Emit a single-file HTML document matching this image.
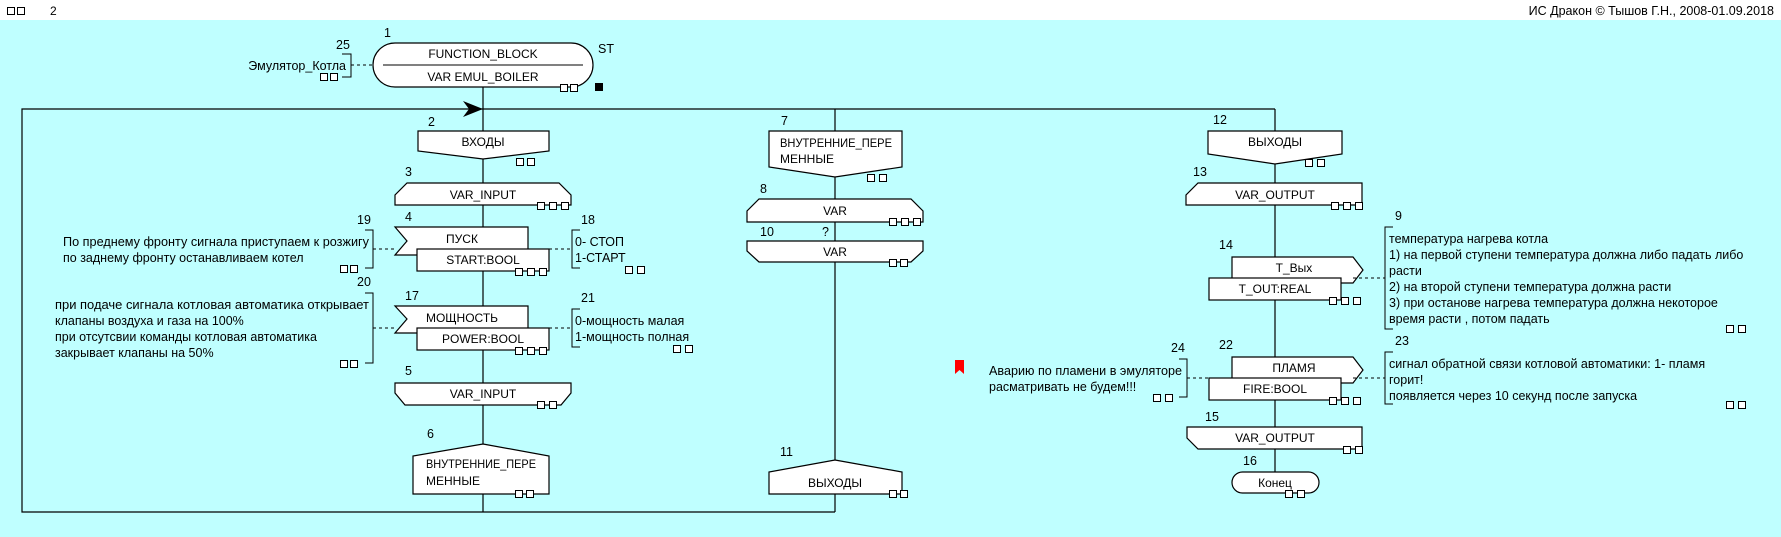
<!DOCTYPE html>
<html><head><meta charset="utf-8"><style>
html,body{margin:0;padding:0;background:#bfffff;}
svg{display:block;font-family:"Liberation Sans","DejaVu Sans",sans-serif;font-size:12px;}
</style></head><body>
<svg width="1781" height="537" viewBox="0 0 1781 537" xmlns="http://www.w3.org/2000/svg">
<rect x="0" y="0" width="1781" height="537" fill="#bfffff"/>
<rect x="0" y="0" width="1781" height="20" fill="#fff"/>
<g fill="none" stroke="#000" stroke-width="1">
<rect x="7.5" y="7.5" width="7" height="7"/><rect x="17.5" y="7.5" width="7" height="7"/>
</g>
<text x="50" y="15" font-size="12">2</text>
<text x="1774" y="15" text-anchor="end" font-size="12.5">ИС Дракон © Тышов Г.Н., 2008-01.09.2018</text>

<g stroke="#000" stroke-width="1.2" fill="none">
<polyline points="1275,109 22,109 22,512 835,512"/>
<line x1="483" y1="87" x2="483" y2="512"/>
<line x1="835" y1="109" x2="835" y2="512"/>
<line x1="1275" y1="109" x2="1275" y2="482"/>
</g>
<polygon points="483,109 463,101 469,109 463,117" fill="#000"/>

<g stroke="#000" stroke-width="1.2" fill="#fff">
<rect x="373" y="43" width="220" height="44" rx="22" ry="22"/>
<polygon points="418,131 549,131 549,151 483,159 418,151"/>
<polygon points="407,183 559,183 571,195 571,205 395,205 395,195"/>
<polygon points="395,227 528,227 528,255 395,255 407,241"/>
<rect x="417" y="249" width="132" height="22"/>
<polygon points="395,306 528,306 528,333 395,333 407,319"/>
<rect x="417" y="328" width="132" height="22"/>
<polygon points="395,383 571,383 571,393 561,405 405,405 395,393"/>
<polygon points="483,444 549,456 549,494 413,494 413,456"/>
<polygon points="769,131 902,131 902,167 835,177 769,167"/>
<polygon points="759,199 911,199 923,211 923,222 747,222 747,211"/>
<polygon points="747,241 923,241 923,251 911,262 759,262 747,251"/>
<polygon points="835,460 902,472 902,494 769,494 769,472"/>
<polygon points="1208,131 1342,131 1342,154 1275,164 1208,154"/>
<polygon points="1198,183 1362,183 1362,205 1186,205 1186,195"/>
<polygon points="1232,257 1353,257 1363,270 1353,283 1232,283"/>
<rect x="1209" y="278" width="132" height="22"/>
<polygon points="1232,357 1353,357 1363,370 1353,383 1232,383"/>
<rect x="1209" y="378" width="132" height="22"/>
<polygon points="1187,427 1362,427 1362,449 1198,449 1187,438"/>
<rect x="1232" y="472" width="87" height="21" rx="10.5" ry="10.5"/>
</g>
<line x1="383" y1="65" x2="583" y2="65" stroke="#000" stroke-width="1"/>
<rect x="595" y="83" width="8" height="8" fill="#000"/>

<g stroke="#000" stroke-width="1" fill="none">
<line x1="351" y1="65" x2="373" y2="65" stroke-dasharray="3,3"/>
<polyline points="342,54 351,54 351,77 342,77"/>
<line x1="373" y1="249" x2="395" y2="249" stroke-dasharray="3,3"/>
<polyline points="365,230 373,230 373,268 365,268"/>
<line x1="549" y1="249" x2="572" y2="249" stroke-dasharray="3,3"/>
<polyline points="580,230 572,230 572,268 580,268"/>
<line x1="373" y1="328" x2="395" y2="328" stroke-dasharray="3,3"/>
<polyline points="365,293 373,293 373,363 365,363"/>
<line x1="549" y1="328" x2="572" y2="328" stroke-dasharray="3,3"/>
<polyline points="580,309 572,309 572,347 580,347"/>
<line x1="1353" y1="278" x2="1385" y2="278" stroke-dasharray="3,3"/>
<polyline points="1393,227 1385,227 1385,329 1393,329"/>
<line x1="1353" y1="378" x2="1385" y2="378" stroke-dasharray="3,3"/>
<polyline points="1393,352 1385,352 1385,404 1393,404"/>
<line x1="1187" y1="378" x2="1209" y2="378" stroke-dasharray="3,3"/>
<polyline points="1179,359 1187,359 1187,397 1179,397"/>
</g>
<polygon points="955,360 964,360 964,374 959.5,370 955,374" fill="#f00"/>

<g stroke="#000" stroke-width="1" fill="#fff">
<rect x="560.5" y="84.5" width="7" height="7"/><rect x="570.5" y="84.5" width="7" height="7"/>
<rect x="320.5" y="73.5" width="7" height="7"/><rect x="330.5" y="73.5" width="7" height="7"/>
<rect x="516.5" y="158.5" width="7" height="7"/><rect x="527.5" y="158.5" width="7" height="7"/>
<rect x="537.5" y="202.5" width="7" height="7"/><rect x="549.5" y="202.5" width="7" height="7"/><rect x="561.5" y="202.5" width="7" height="7"/>
<rect x="515.5" y="268.5" width="7" height="7"/><rect x="527.5" y="268.5" width="7" height="7"/><rect x="539.5" y="268.5" width="7" height="7"/>
<rect x="340.5" y="265.5" width="7" height="7"/><rect x="350.5" y="265.5" width="7" height="7"/>
<rect x="625.5" y="266.5" width="7" height="7"/><rect x="637.5" y="266.5" width="7" height="7"/>
<rect x="515.5" y="347.5" width="7" height="7"/><rect x="527.5" y="347.5" width="7" height="7"/><rect x="539.5" y="347.5" width="7" height="7"/>
<rect x="340.5" y="360.5" width="7" height="7"/><rect x="350.5" y="360.5" width="7" height="7"/>
<rect x="673.5" y="345.5" width="7" height="7"/><rect x="685.5" y="345.5" width="7" height="7"/>
<rect x="537.5" y="401.5" width="7" height="7"/><rect x="549.5" y="401.5" width="7" height="7"/>
<rect x="515.5" y="490.5" width="7" height="7"/><rect x="526.5" y="490.5" width="7" height="7"/>
<rect x="867.5" y="174.5" width="7" height="7"/><rect x="879.5" y="174.5" width="7" height="7"/>
<rect x="889.5" y="218.5" width="7" height="7"/><rect x="901.5" y="218.5" width="7" height="7"/><rect x="913.5" y="218.5" width="7" height="7"/>
<rect x="889.5" y="259.5" width="7" height="7"/><rect x="900.5" y="259.5" width="7" height="7"/>
<rect x="889.5" y="490.5" width="7" height="7"/><rect x="900.5" y="490.5" width="7" height="7"/>
<rect x="1305.5" y="159.5" width="7" height="7"/><rect x="1317.5" y="159.5" width="7" height="7"/>
<rect x="1331.5" y="202.5" width="7" height="7"/><rect x="1343.5" y="202.5" width="7" height="7"/><rect x="1355.5" y="202.5" width="7" height="7"/>
<rect x="1329.5" y="297.5" width="7" height="7"/><rect x="1341.5" y="297.5" width="7" height="7"/><rect x="1353.5" y="297.5" width="7" height="7"/>
<rect x="1329.5" y="397.5" width="7" height="7"/><rect x="1341.5" y="397.5" width="7" height="7"/><rect x="1353.5" y="397.5" width="7" height="7"/>
<rect x="1726.5" y="325.5" width="7" height="7"/><rect x="1738.5" y="325.5" width="7" height="7"/>
<rect x="1726.5" y="401.5" width="7" height="7"/><rect x="1738.5" y="401.5" width="7" height="7"/>
<rect x="1153.5" y="394.5" width="7" height="7"/><rect x="1165.5" y="394.5" width="7" height="7"/>
<rect x="1343.5" y="446.5" width="7" height="7"/><rect x="1355.5" y="446.5" width="7" height="7"/>
<rect x="1285.5" y="490.5" width="7" height="7"/><rect x="1297.5" y="490.5" width="7" height="7"/>
</g>

<g fill="#000">
<g text-anchor="middle">
<text x="483" y="58">FUNCTION_BLOCK</text>
<text x="483" y="81">VAR EMUL_BOILER</text>
<text x="483" y="146">ВХОДЫ</text>
<text x="483" y="199">VAR_INPUT</text>
<text x="462" y="243">ПУСК</text>
<text x="483" y="264">START:BOOL</text>
<text x="462" y="322">МОЩНОСТЬ</text>
<text x="483" y="343">POWER:BOOL</text>
<text x="483" y="398">VAR_INPUT</text>
<text x="835" y="215">VAR</text>
<text x="835" y="256">VAR</text>
<text x="835" y="487">ВЫХОДЫ</text>
<text x="1275" y="146">ВЫХОДЫ</text>
<text x="1275" y="199">VAR_OUTPUT</text>
<text x="1294" y="272">Т_Вых</text>
<text x="1275" y="293">T_OUT:REAL</text>
<text x="1294" y="372">ПЛАМЯ</text>
<text x="1275" y="393">FIRE:BOOL</text>
<text x="1275" y="442">VAR_OUTPUT</text>
<text x="1275" y="487">Конец</text>
</g>
<text x="426" y="468" textLength="110" lengthAdjust="spacingAndGlyphs">ВНУТРЕННИЕ_ПЕРЕ</text>
<text x="426" y="485">МЕННЫЕ</text>
<text x="780" y="147" textLength="112" lengthAdjust="spacingAndGlyphs">ВНУТРЕННИЕ_ПЕРЕ</text>
<text x="780" y="163">МЕННЫЕ</text>

<g font-size="12.5">
<text x="384" y="37">1</text>
<text x="598" y="53">ST</text>
<text x="336" y="49">25</text>
<text x="428" y="126">2</text>
<text x="405" y="176">3</text>
<text x="405" y="221">4</text>
<text x="357" y="224">19</text>
<text x="581" y="224">18</text>
<text x="405" y="300">17</text>
<text x="357" y="286">20</text>
<text x="581" y="302">21</text>
<text x="405" y="375">5</text>
<text x="427" y="438">6</text>
<text x="781" y="125">7</text>
<text x="760" y="193">8</text>
<text x="760" y="236">10</text>
<text x="822" y="236">?</text>
<text x="780" y="456">11</text>
<text x="1213" y="124">12</text>
<text x="1193" y="176">13</text>
<text x="1219" y="249">14</text>
<text x="1395" y="220">9</text>
<text x="1219" y="349">22</text>
<text x="1395" y="345">23</text>
<text x="1171" y="352">24</text>
<text x="1205" y="421">15</text>
<text x="1243" y="465">16</text>

<text x="346" y="70" text-anchor="end">Эмулятор_Котла</text>
<text x="63" y="246" textLength="306" lengthAdjust="spacingAndGlyphs">По преднему фронту сигнала приступаем к розжигу</text>
<text x="63" y="262">по заднему фронту останавливаем котел</text>
<text x="55" y="309" textLength="314" lengthAdjust="spacingAndGlyphs">при подаче сигнала котловая автоматика открывает</text>
<text x="55" y="325">клапаны воздуха и газа на 100%</text>
<text x="55" y="341">при отсутсвии команды котловая автоматика</text>
<text x="55" y="357">закрывает клапаны на 50%</text>
<text x="575" y="246">0- СТОП</text>
<text x="575" y="262">1-СТАРТ</text>
<text x="575" y="325">0-мощность малая</text>
<text x="575" y="341">1-мощность полная</text>
<text x="1389" y="243">температура нагрева котла</text>
<text x="1389" y="259">1) на первой ступени температура должна либо падать либо</text>
<text x="1389" y="275">расти</text>
<text x="1389" y="291">2) на второй ступени температура должна расти</text>
<text x="1389" y="307">3) при останове нагрева температура должна некоторое</text>
<text x="1389" y="323">время расти , потом падать</text>
<text x="1389" y="368">сигнал обратной связи котловой автоматики: 1- пламя</text>
<text x="1389" y="384">горит!</text>
<text x="1389" y="400">появляется через 10 секунд после запуска</text>
<text x="989" y="375" textLength="193" lengthAdjust="spacingAndGlyphs">Аварию по пламени в эмуляторе</text>
<text x="989" y="391">расматривать не будем!!!</text>
</g>
</g>
</svg>
</body></html>
